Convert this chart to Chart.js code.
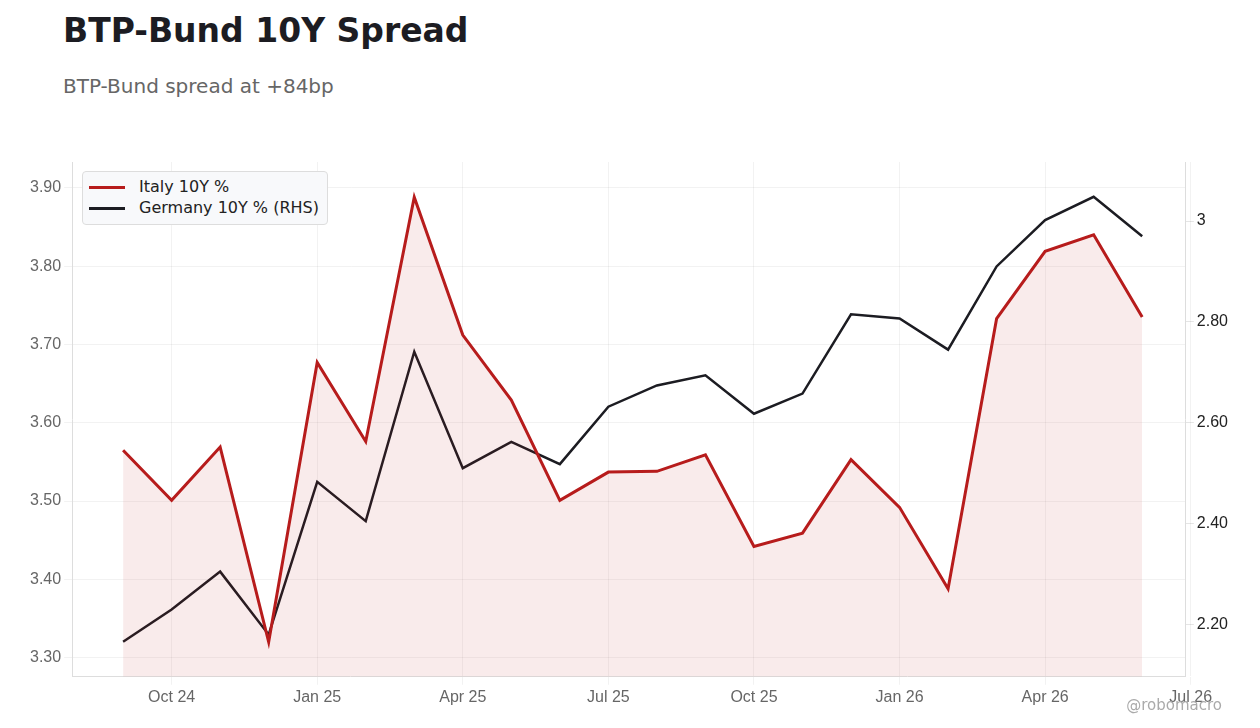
<!DOCTYPE html>
<html><head><meta charset="utf-8">
<script src="https://cdn.jsdelivr.net/npm/chart.js@4"></script>
<style>
body{margin:0;background:#fff;font-family:"DejaVu Sans",sans-serif;}
#wrap{position:relative;width:1260px;height:728px;}
h1{position:absolute;left:63px;top:11px;margin:0;font-size:33px;font-weight:bold;color:#1c1c22;}
#sub{position:absolute;left:63px;top:74px;font-size:20px;color:#666;}
#cv{position:absolute;left:0;top:140px;}
#legend{position:absolute;left:82px;top:171px;border:1px solid #ddd;border-radius:4px;background:#f8f9fb;padding:4px 8px 6px 6px;font-size:16px;color:#222;line-height:21px;}
#legend span{display:inline-block;width:36px;height:3px;vertical-align:middle;margin-right:14px;}
#wm{position:absolute;right:38px;top:696px;font-size:15px;color:#aaa;}
</style></head><body>
<div id="wrap">
<h1>BTP-Bund 10Y Spread</h1>
<div id="sub">BTP-Bund spread at +84bp</div>
<canvas id="cv" width="1260" height="588"></canvas>
<div id="legend"><div><span style="background:#b71c1c"></span>Italy 10Y %</div><div><span style="background:#1c1c22"></span>Germany 10Y % (RHS)</div></div>
<div id="wm">@robomacro</div>
</div>
<script>
// monthly observations, Sep 2024 .. Jun 2026 (index 0 = Sep 24)
const italy = [3.565,3.501,3.569,3.320,3.677,3.576,3.888,3.712,3.629,3.501,3.537,3.538,3.559,3.442,3.459,3.553,3.492,3.388,3.733,3.819,3.840,3.735];
const germany = [2.166,2.230,2.305,2.180,2.483,2.405,2.741,2.510,2.562,2.518,2.632,2.674,2.694,2.618,2.658,2.815,2.807,2.745,2.910,3.002,3.048,2.970];
const tickPos = [1,4,7,10,13,16,19,22];
const tickLabels = ['Oct 24','Jan 25','Apr 25','Jul 25','Oct 25','Jan 26','Apr 26','Jul 26'];

const pts = arr => arr.map((v,i) => ({x:i, y:v}));

new Chart(document.getElementById('cv'), {
  type: 'line',
  data: {
    datasets: [{
      label: 'Italy 10Y %',
      data: pts(italy),
      borderColor: '#b71c1c',
      backgroundColor: 'rgba(183,28,28,0.09)',
      borderWidth: 3,
      fill: 'start',
      pointRadius: 0,
      tension: 0,
      yAxisID: 'y'
    }, {
      label: 'Germany 10Y % (RHS)',
      data: pts(germany),
      borderColor: '#1c1c22',
      borderWidth: 2.5,
      fill: false,
      pointRadius: 0,
      tension: 0,
      yAxisID: 'y1'
    }]
  },
  options: {
    responsive: false,
    animation: false,
    layout: {padding: {left: 27, right: 29, top: 22, bottom: 18}},
    plugins: {legend: {display: false}, tooltip: {enabled: false}},
    scales: {
      x: {
        type: 'linear', min: -1.05, max: 21.9,
        afterBuildTicks: ax => { ax.ticks = tickPos.map(v => ({value: v})); },
        ticks: {callback: (v) => tickLabels[tickPos.indexOf(v)], color: '#666', font: {size: 16}, maxRotation: 0, autoSkip: false},
        grid: {color: 'rgba(0,0,0,0.05)'},
        border: {color: '#ddd'}
      },
      y: {
        position: 'left', min: 3.2756, max: 3.933,
        afterBuildTicks: ax => { ax.ticks = [3.3,3.4,3.5,3.6,3.7,3.8,3.9].map(v => ({value: v})); },
        ticks: {callback: v => v.toFixed(2), color: '#666', font: {size: 16}},
        grid: {color: 'rgba(0,0,0,0.05)'},
        border: {color: '#ddd'}
      },
      y1: {
        position: 'right', min: 2.0965, max: 3.117,
        afterBuildTicks: ax => { ax.ticks = [2.2,2.4,2.6,2.8,3.0].map(v => ({value: v})); },
        ticks: {callback: v => Math.abs(v-3) < 1e-9 ? '3' : v.toFixed(2), color: '#222', font: {size: 16}},
        grid: {drawOnChartArea: false},
        border: {color: '#ddd'}
      }
    }
  }
});
</script>
</body></html>
